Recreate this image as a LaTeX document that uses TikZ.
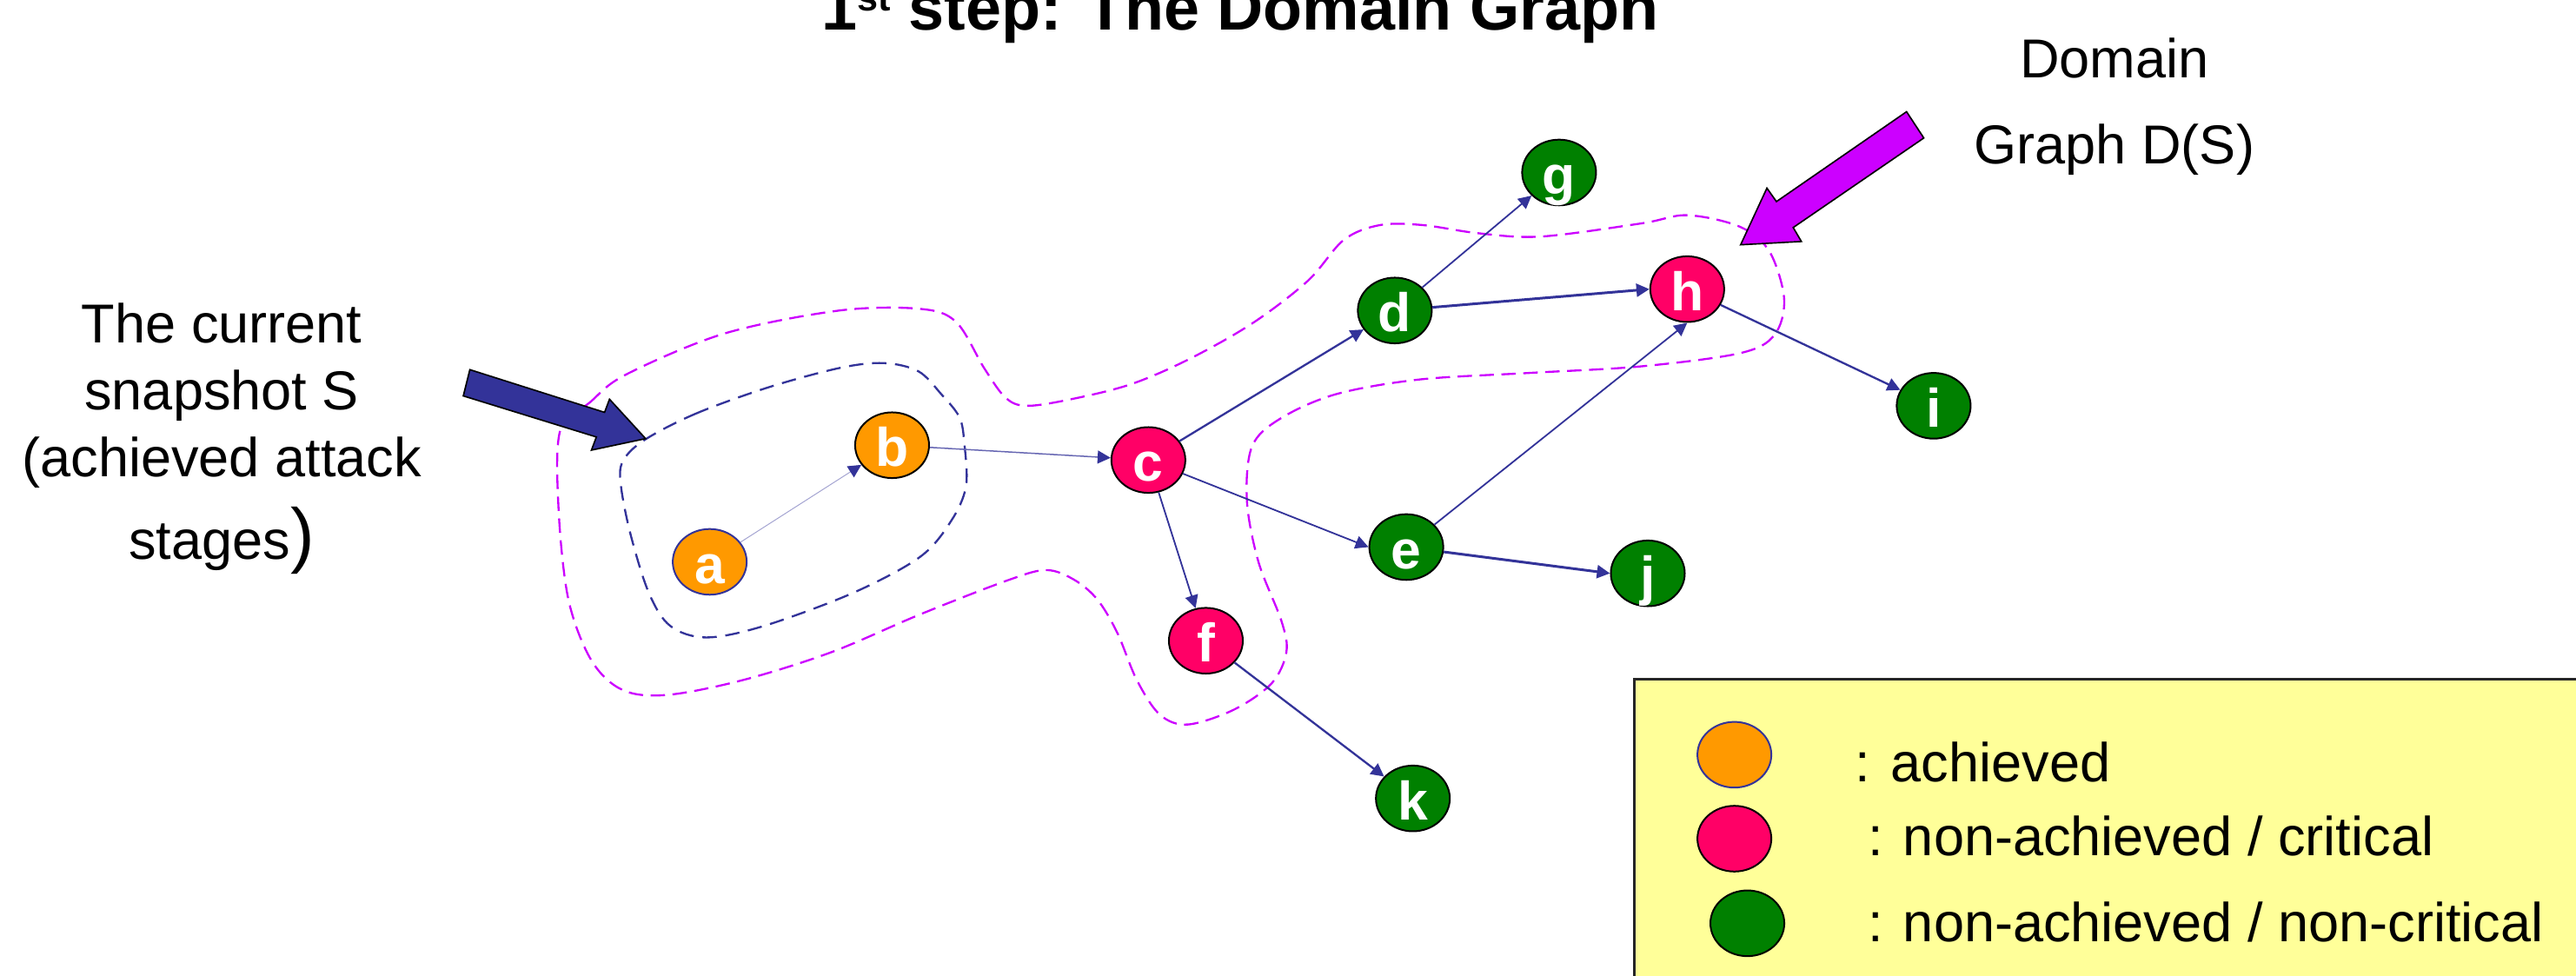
\documentclass[tikz,border=0pt]{standalone}
\usepackage{fontspec}
\setmainfont{Liberation Sans}
\usetikzlibrary{arrows.meta,shapes.geometric}
\definecolor{navy}{HTML}{333399}
\definecolor{mag}{HTML}{CC00FF}
\definecolor{achv}{HTML}{FF9900}
\definecolor{crit}{HTML}{FF0066}
\definecolor{ncrit}{HTML}{008000}
\definecolor{legbg}{HTML}{FFFF99}
\begin{document}
\begin{tikzpicture}[x=0.02cm,y=-0.02cm,
  gnode/.style={ellipse,draw=black,line width=0.6pt,minimum width=0.9cm,minimum height=0.8cm,inner sep=0pt,
     font=\fontsize{18.8}{18.8}\selectfont\bfseries,text=white,text height=14.8pt,text depth=0pt},
  ach/.style={gnode,fill=achv,draw=navy},
  crt/.style={gnode,fill=crit},
  ncr/.style={gnode,fill=ncrit},
  edge/.style={draw=navy,line width=0.7pt,-{Triangle[length=4.5pt,width=4.5pt,color=navy]}},
  lbl/.style={inner sep=0pt,font=\fontsize{19}{23.1}\selectfont},
  outer/.style={draw=mag,line width=0.7pt,dash pattern=on 5pt off 2.6pt},
  inner/.style={draw=navy,line width=0.7pt,dash pattern=on 5pt off 3pt},
  blockarrow/.style={draw=black,line width=0.5pt}
]
\useasboundingbox (0,0) rectangle (1568,594);

% title
\node[anchor=base,inner sep=0pt,font=\fontsize{22.2}{22.2}\selectfont\bfseries] (title) at (755,18.2)
  {1\raisebox{6.7pt}{\fontsize{13}{13}\selectfont st} step: The Domain Graph};

% dashed regions
\draw[outer] plot[smooth cycle,tension=0.55] coordinates {
 (341,262) (359,245) (381,228) (441,203) (511,189) (560,188) (582,196) (599,224) (612,242)
 (625,247) (652,243) (688,234) (723,219) (762,197) (796,171) (818,146) (840,137) (866,137)
 (900,142) (938,144) (999,136) (1027,131) (1059,138) (1077,153) (1086,182) (1080,204)
 (1059,215) (999,223) (931,227) (864,231) (813,240) (779,255) (762,272) (759,305) (766,342)
 (780,378) (783,397) (774,416) (751,432) (723,441) (706,435) (692,414) (680,385) (668,365)
 (654,353) (637,347) (614,353) (560,374) (506,397) (452,414) (406,423) (379,420) (360,402)
 (346,365) (340,310)};
\draw[inner] plot[smooth cycle,tension=0.55] coordinates {
 (392,268) (423,252) (467,236) (511,224) (538,221) (559,226) (573,240) (584,254) (587,270)
 (588,296) (579,317) (560,339) (519,361) (465,381) (430,388) (408,381) (395,361) (384,326)
 (378,296) (379,281)};

% graph nodes
\node[ach] (a) at (432,342) {a};
\node[ach,draw=black] (b) at (543,271) {b};
\node[crt] (c) at (699,280) {c};
\node[ncr] (d) at (849,189) {d};
\node[ncr] (e) at (856,333) {e};
\node[crt] (f) at (734,390) {f};
\node[ncr] (g) at (949,105) {g};
\node[crt] (h) at (1027,176) {h};
\node[ncr] (i) at (1177,247) {i};
\node[ncr] (j) at (1003,349) {j};
\node[ncr] (k) at (860,486) {k};

% edges
\draw[edge,line width=0.3pt,draw=navy!45] (a) -- (b);
\draw[edge,line width=0.45pt,draw=navy!75] (b) -- (c);
\draw[edge] (c) -- (d);
\draw[edge,line width=0.55pt] (c) -- (e.west);
\draw[edge,line width=0.55pt] (c) -- (f);
\draw[edge,line width=0.55pt] (d) -- (g);
\draw[edge,line width=0.9pt] (d) -- (h.west);
\draw[edge,line width=0.55pt] (e) -- (h.south);
\draw[edge,line width=0.9pt] (e) -- (j.west);
\draw[edge] (h) -- (i);
\draw[edge] (f) -- (k);

% block arrows
\filldraw[fill=navy,blockarrow] (286,225) -- (368,251) -- (371,243) -- (393,267) -- (360,274) -- (363,266) -- (282,241) -- cycle;
\filldraw[fill=mag,blockarrow] (1160.5,68) -- (1081.3,122.7) -- (1075.5,114.5) -- (1059.5,149) -- (1096.5,147) -- (1091.5,138.5) -- (1171,84) -- cycle;

% side texts (anchor=base is the baseline of the last line)
\node[lbl,align=center,anchor=base] (snap) at (135,340.3)
  {The current\\snapshot S\\(achieved attack\\[5.5pt]stages{\fontsize{25}{25}\selectfont)}};
\node[lbl,align=center,anchor=base] (dom) at (1287,99.6) {Domain\\[6.5pt]Graph D(S)};

% legend
\draw[fill=legbg,draw=black!85,line width=0.8pt] (994.8,413.5) rectangle (1590,610);
\node[ach] (l1) at (1055.7,459.4) {};
\node[crt] (l2) at (1055.7,510.5) {};
\node[ncr] (l3) at (1063.6,562) {};
\node[lbl,anchor=base west] (t1) at (1129,476) {: achieved};
\node[lbl,anchor=base west] (t2) at (1136.5,521) {: non-achieved / critical};
\node[lbl,anchor=base west] (t3) at (1136.5,573) {: non-achieved / non-critical};
\end{tikzpicture}
\end{document}
